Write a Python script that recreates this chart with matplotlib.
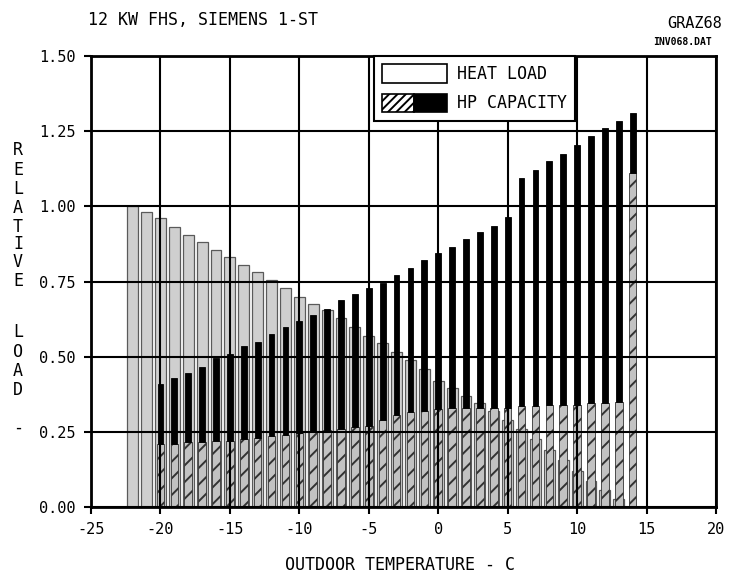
import matplotlib.pyplot as plt
from matplotlib.patches import Patch
from matplotlib.legend_handler import HandlerTuple

plt.rcParams['font.family'] = ['DejaVu Sans Mono']
plt.rcParams['hatch.linewidth'] = 1.4
plt.rcParams['axes.unicode_minus'] = False

# heat load, relative, per degree C
load_temps = list(range(-22, 15))
heat_load = [1.00, 0.98, 0.96, 0.93, 0.905, 0.88, 0.855, 0.83, 0.805, 0.78,
             0.755, 0.73, 0.70, 0.675, 0.655, 0.63, 0.60, 0.57, 0.545, 0.515,
             0.49, 0.46, 0.42, 0.395, 0.37, 0.345, 0.32, 0.29, 0.26, 0.225,
             0.19, 0.155, 0.12, 0.085, 0.055, 0.025, 0.0]

# heat pump capacity: lower (hatched) part and top of the bar
hp_temps = list(range(-20, 15))
hp_base = [0.21, 0.21, 0.215, 0.215, 0.22, 0.22, 0.225, 0.23, 0.235, 0.24,
           0.245, 0.25, 0.255, 0.26, 0.265, 0.27, 0.29, 0.305, 0.315, 0.32,
           0.325, 0.33, 0.33, 0.33, 0.33, 0.33, 0.335, 0.335, 0.34, 0.34,
           0.34, 0.345, 0.345, 0.35, 1.11]
hp_cap = [0.41, 0.43, 0.445, 0.465, 0.495, 0.51, 0.535, 0.55, 0.575, 0.60,
          0.62, 0.64, 0.66, 0.69, 0.71, 0.73, 0.745, 0.77, 0.795, 0.82,
          0.845, 0.865, 0.89, 0.915, 0.935, 0.965, 1.095, 1.12, 1.15, 1.175,
          1.205, 1.235, 1.26, 1.285, 1.31]
hp_top = [c - b for c, b in zip(hp_cap, hp_base)]

fig = plt.figure(figsize=(7.32, 5.8), dpi=100)
ax = fig.add_axes([91 / 732, 1 - 507 / 580, 625 / 732, 451 / 580])

# heat load bars behind
ax.bar(load_temps, heat_load, width=0.78, color='#cfcfcf', edgecolor='#5a5a5a',
       linewidth=0.9, zorder=1)
# hp capacity: hatched part and black part
ax.bar(hp_temps, hp_base, width=0.55, color='#c2c2c2', edgecolor='#333333',
       hatch='//', linewidth=0.6, zorder=1.1)
ax.bar(hp_temps, hp_top, bottom=hp_base, width=0.42, color='black',
       edgecolor='black', linewidth=0.6, zorder=1.2)

ax.set_xlim(-25, 20)
ax.set_ylim(0, 1.5)
ax.set_xticks(range(-25, 21, 5))
ax.set_yticks([0, 0.25, 0.5, 0.75, 1.0, 1.25, 1.5])
ax.set_yticklabels(['0.00', '0.25', '0.50', '0.75', '1.00', '1.25', '1.50'])
ax.tick_params(direction='out', length=5, width=1.5, labelsize=11, pad=6)
ax.set_axisbelow(False)
ax.grid(True, color='black', linewidth=1.5)
for s in ax.spines.values():
    s.set_linewidth(2)

# legend
h_load = Patch(facecolor='white', edgecolor='black', linewidth=1.2)
h_hatch = Patch(facecolor='white', edgecolor='black', hatch='////', linewidth=1.2)
h_black = Patch(facecolor='black', edgecolor='black', linewidth=1.2)
leg = ax.legend([h_load, (h_hatch, h_black)], ['HEAT LOAD', 'HP CAPACITY'],
                handler_map={tuple: HandlerTuple(ndivide=None, pad=0)},
                loc='upper left', bbox_to_anchor=(0.452, 1.0), borderaxespad=0,
                fancybox=False, framealpha=1, edgecolor='black', fontsize=12,
                handlelength=3.9, handleheight=1.3, borderpad=0.5,
                labelspacing=0.65, handletextpad=0.6)
leg.get_frame().set_linewidth(1.5)

# titles and labels
fig.text(88 / 732, 1 - 20 / 580, '12 KW FHS, SIEMENS 1-ST', fontsize=12,
         ha='left', va='center')
fig.text(722 / 732, 1 - 24 / 580, 'GRAZ68', fontsize=11, ha='right', va='center')
fig.text(712 / 732, 1 - 42 / 580, 'INV068.DAT', fontsize=7, ha='right',
         va='center', fontweight='bold')
fig.text(400 / 732, 1 - 565 / 580, 'OUTDOOR TEMPERATURE - C', fontsize=12,
         ha='center', va='center')

ylabel_chars = ['R', 'E', 'L', 'A', 'T', 'I', 'V', 'E', 'L', 'O', 'A', 'D', '-']
ylabel_y = [150, 170, 189, 208, 227, 244, 262, 281, 332, 352, 371, 390, 428]
for ch, yy in zip(ylabel_chars, ylabel_y):
    fig.text(18 / 732, 1 - yy / 580, ch, fontsize=12, ha='center', va='center')

fig.savefig('out.png', dpi=100)
